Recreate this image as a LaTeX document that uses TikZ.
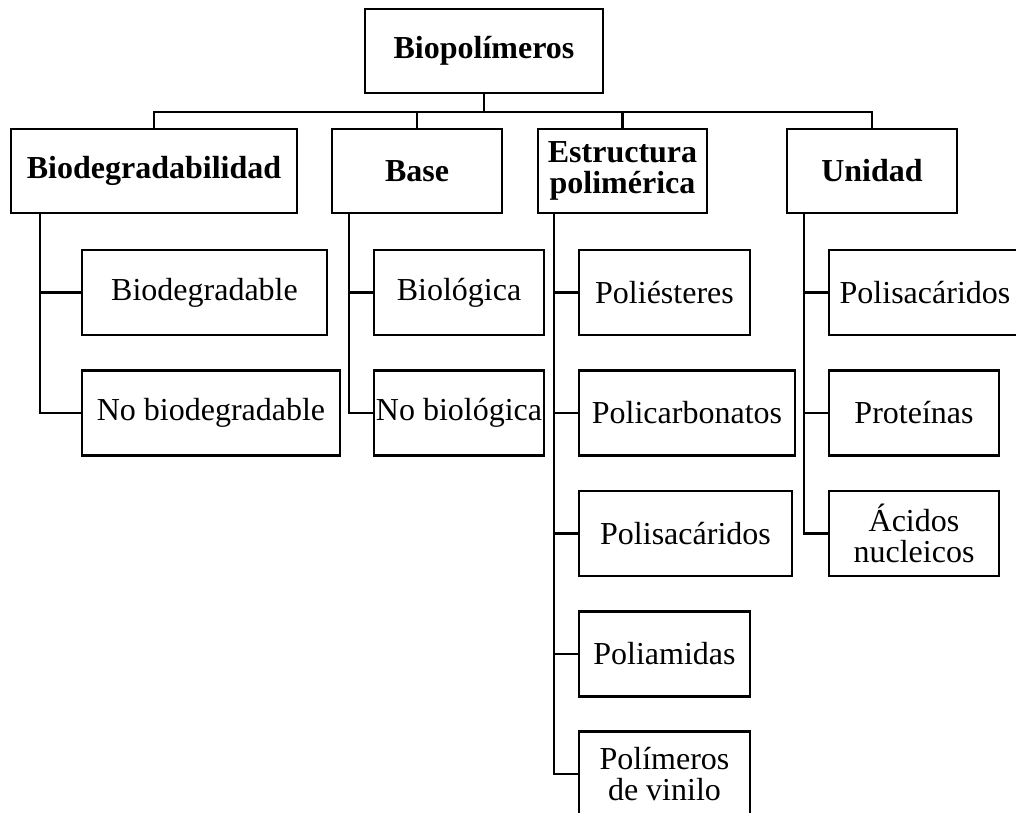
\documentclass[tikz,border=0pt]{standalone}
\usepackage{fontspec}
\setmainfont{Liberation Serif}
\begin{document}
\begin{tikzpicture}[x=1pt,y=-1pt,
  box/.style={draw, line width=2.3pt, inner sep=0pt, align=center, font=\fontsize{32}{31.5}\selectfont},
  hbox/.style={box, font=\fontsize{32}{31.5}\selectfont\bfseries},
  conn/.style={line width=2.7pt}]
\useasboundingbox (0,0) rectangle (1016,812);
\clip (0,0) rectangle (1016,812);
% root
\node[hbox, minimum width=238pt, minimum height=84pt] (root) at (484,51) {Biopolímeros};
% level 1
\node[hbox, minimum width=286pt, minimum height=84pt] (bio) at (154,171) {Biodegradabilidad};
\node[hbox, minimum width=170pt, minimum height=84pt] (base) at (417,171) {Base};
\node[hbox, minimum width=169pt, minimum height=84pt] (estr) at (622.5,171) {Estructura\\polimérica};
\node[hbox, minimum width=170pt, minimum height=84pt] (unid) at (872,171) {Unidad};
% children
\node[box, minimum width=245pt, minimum height=85pt] (bd1) at (204.5,292.5) {Biodegradable};
\node[box, minimum width=258pt, minimum height=85pt] (bd2) at (211,413) {No biodegradable};
\node[box, minimum width=170pt, minimum height=85pt] (ba1) at (459,292.5) {Biológica};
\node[box, minimum width=170pt, minimum height=85pt] (ba2) at (459,413) {No biológica};
\node[box, minimum width=171pt, minimum height=85pt] (es1) at (664.5,292.5) {Poliésteres};
\node[box, minimum width=216pt, minimum height=85pt] (es2) at (687,413) {Policarbonatos};
\node[box, minimum width=213pt, minimum height=85pt] (es3) at (685.5,533.5) {Polisacáridos};
\node[box, minimum width=171pt, minimum height=85pt] (es4) at (664.5,654) {Poliamidas};
\node[box, minimum width=171pt, minimum height=85pt] (es5) at (664.5,774) {Polímeros\\de vinilo};
\node[box, minimum width=192pt, minimum height=85pt] (un1) at (925,292.5) {Polisacáridos};
\node[box, minimum width=170pt, minimum height=85pt] (un2) at (914,413) {Proteínas};
\node[box, minimum width=170pt, minimum height=85pt] (un3) at (914,533.5) {Ácidos\\nucleicos};
% bus
\coordinate (busy) at (0,112);
\draw[conn] (root.south) -- (root.south |- busy);
\draw[conn] (bio.north) |- (unid.north |- busy) -- (unid.north);
\draw[conn] (base.north) -- (base.north |- busy);
\draw[conn] (estr.north) -- (estr.north |- busy);
% trunks
\coordinate (bioL) at (40,213);
\coordinate (baseL) at (349,213);
\coordinate (estrL) at (554,213);
\coordinate (unidL) at (804,213);
\draw[conn] (bioL) |- (bd1.west);
\draw[conn] (bioL) |- (bd2.west);
\draw[conn] (baseL) |- (ba1.west);
\draw[conn] (baseL) |- (ba2.west);
\draw[conn] (estrL) |- (es1.west);
\draw[conn] (estrL) |- (es2.west);
\draw[conn] (estrL) |- (es3.west);
\draw[conn] (estrL) |- (es4.west);
\draw[conn] (estrL) |- (es5.west);
\draw[conn] (unidL) |- (un1.west);
\draw[conn] (unidL) |- (un2.west);
\draw[conn] (unidL) |- (un3.west);
\end{tikzpicture}
\end{document}
